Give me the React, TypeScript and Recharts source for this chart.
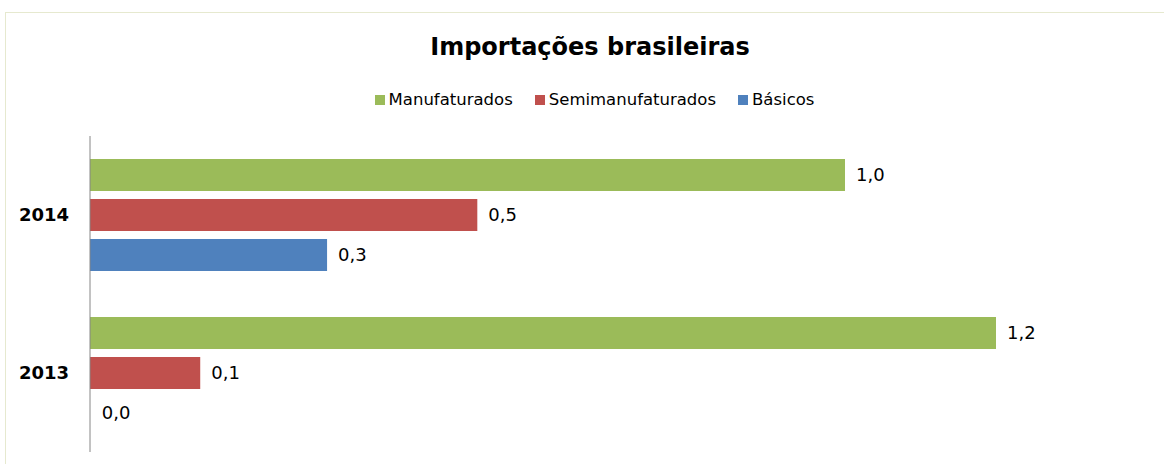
import { BarChart, Bar, XAxis, YAxis, LabelList, Rectangle } from 'recharts';

const categories = ['2014', '2013'];
const manufaturados = [1.0, 1.2];
const semimanufaturados = [0.513, 0.146];
const basicos = [0.314, 0.001];

const SERIES = [
  { key: 'manufaturados', name: 'Manufaturados', color: '#9BBB59' },
  { key: 'semimanufaturados', name: 'Semimanufaturados', color: '#C0504D' },
  { key: 'basicos', name: 'Básicos', color: '#4F81BD' },
];

const data = categories.map((year, i) => ({
  year,
  manufaturados: manufaturados[i],
  semimanufaturados: semimanufaturados[i],
  basicos: basicos[i],
}));

const FONT = '"DejaVu Sans", Verdana, sans-serif';

const fmt = (v: any) => Number(v).toFixed(1).replace('.', ',');

// bars thinner than a pixel are not drawn (Excel shows nothing for ~0 values)
const BarShape = (props: any) => (props.width < 1 ? <g /> : <Rectangle {...props} />);

const App = () => {
  return (
    <div style={{ position: 'absolute', left: 0, top: 0, width: 1164, height: 464, fontFamily: FONT, background: '#fff' }}>
      <div
        style={{
          position: 'absolute',
          left: 5,
          top: 12,
          width: 1159,
          height: 452,
          borderLeft: '1px solid #E6E9CF',
          borderTop: '1px solid #E6E9CF',
          boxSizing: 'border-box',
        }}
      />
      <div
        style={{
          position: 'absolute',
          left: 0,
          top: 30,
          width: 1180,
          textAlign: 'center',
          fontSize: 24,
          fontWeight: 'bold',
          lineHeight: '34px',
          color: '#000',
        }}
      >
        Importações brasileiras
      </div>
      <div
        style={{
          position: 'absolute',
          left: 0,
          top: 89,
          width: 1189,
          display: 'flex',
          justifyContent: 'center',
          fontSize: 16.5,
          lineHeight: '22px',
          color: '#000',
        }}
      >
        {SERIES.map((s) => (
          <div key={s.key} style={{ display: 'flex', alignItems: 'center', margin: '0 11px' }}>
            <span style={{ display: 'inline-block', width: 10, height: 10, background: s.color, marginRight: 4 }} />
            <span>{s.name}</span>
          </div>
        ))}
      </div>
      <BarChart
        width={1164}
        height={464}
        data={data}
        layout="vertical"
        margin={{ top: 136, right: 17, bottom: 12, left: 0 }}
        barSize={32}
        barGap={8}
        style={{ position: 'absolute', left: 0, top: 0 }}
      >
        <XAxis type="number" domain={[0, 1.4]} hide />
        <YAxis
          type="category"
          dataKey="year"
          width={90}
          axisLine={{ stroke: '#868686', strokeWidth: 1 }}
          tickLine={false}
          tickSize={0}
          tickMargin={21}
          tick={{ fill: '#000', fontSize: 18, fontWeight: 'bold', fontFamily: FONT }}
        />
        {SERIES.map((s) => (
          <Bar key={s.key} dataKey={s.key} name={s.name} fill={s.color} shape={BarShape} isAnimationActive={false}>
            <LabelList
              dataKey={s.key}
              position="right"
              offset={11}
              formatter={fmt}
              style={{ fill: '#000', fontSize: 18, fontFamily: FONT }}
            />
          </Bar>
        ))}
      </BarChart>
    </div>
  );
};

export default App;
